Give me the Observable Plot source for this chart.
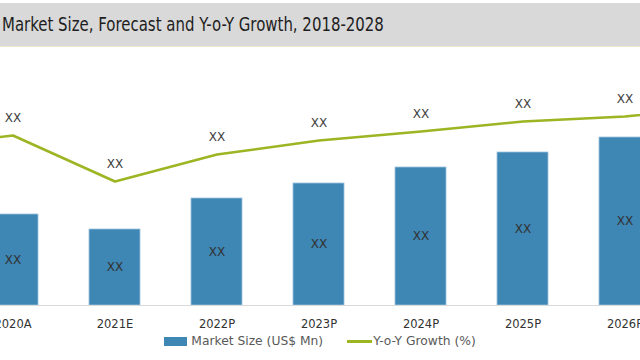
<!DOCTYPE html>
<html><head><meta charset="utf-8">
<script src="https://cdn.jsdelivr.net/npm/d3@7"></script>
<script src="https://cdn.jsdelivr.net/npm/@observablehq/plot@0.6"></script>
<style>
body{margin:0;width:640px;height:360px;overflow:hidden;background:#fff}
#title{margin-top:3px;height:43px;background:#d9d9d9;border-bottom:1px solid #efe4cc;font:19px "Liberation Sans Narrow","DejaVu Sans Condensed",sans-serif;color:#1e1e1e;line-height:43px;padding-left:2px;white-space:nowrap;overflow:hidden}
#title span{display:inline-block;transform:scaleX(0.875);transform-origin:0 50%}
#chart svg{display:block}
#legend{height:18px;display:flex;justify-content:center;align-items:center;font:12.3px "DejaVu Sans",sans-serif;color:#595959}
.sw{display:inline-block;margin-right:4px}
</style></head>
<body>
<div id="title"><span>Market Size, Forecast and Y-o-Y Growth, 2018-2028</span></div>
<div id="chart"></div>
<div id="legend">
  <span class="sw" style="width:23px;height:9px;background:#3e86b4"></span><span>Market Size (US$ Mn)</span>
  <span class="sw" style="width:25px;height:3px;background:#9bb523;margin-left:24px;margin-right:1px"></span><span>Y-o-Y Growth (%)</span>
</div>
<script>
const years = ["2018A","2019A","2020A","2021E","2022P","2023P","2024P","2025P","2026P","2027P","2028P"];
const marketSize = [78, 85, 91, 76, 107, 122, 138, 153, 168, 184, 200];
const growth = [null, 6.0, 7.2, 2.6, 5.3, 6.7, 7.6, 8.6, 9.1, 10.2, 10.8];
const barLabels = years.map(() => "XX");
const growthLabels = years.map(() => "XX");

const market = years.map((year, i) => ({year, value: marketSize[i], label: barLabels[i]}));
const yoy = years.map((year, i) => ({year, growth: growth[i], label: growthLabels[i]})).filter(d => d.growth != null);
const g2y = d3.scaleLinear([0, 10], [98, 198]);

const chart = Plot.plot({
  width: 640, height: 285,
  marginLeft: 0, marginRight: 0, marginTop: 0, marginBottom: 27,
  style: {fontFamily: "DejaVu Sans", background: "transparent"},
  x: {type: "band", domain: years, range: [-272.4, 908.6], padding: 0.5},
  y: {domain: [0, 258], axis: null},
  marks: [
    Plot.barY(market, {x: "year", y: "value", fill: "#3e86b4", stroke: "#9cc2dc", strokeWidth: 0.8}),
    Plot.ruleY([0], {stroke: "#d9d9d9"}),
    Plot.text(market, {x: "year", y: d => d.value / 2, text: "label", fill: "#333", fontSize: 12}),
    Plot.line(yoy, {x: "year", y: d => g2y(d.growth), stroke: "#9bb523", strokeWidth: 2.5}),
    Plot.text(yoy, {x: "year", y: d => g2y(d.growth), text: "label", dy: -17.5, fill: "#404040", fontSize: 12}),
    Plot.axisX({tickSize: 0, tickPadding: 14, fontSize: 11.5, color: "#333", label: null})
  ]
});
document.getElementById("chart").appendChild(chart);
</script>
</body></html>
